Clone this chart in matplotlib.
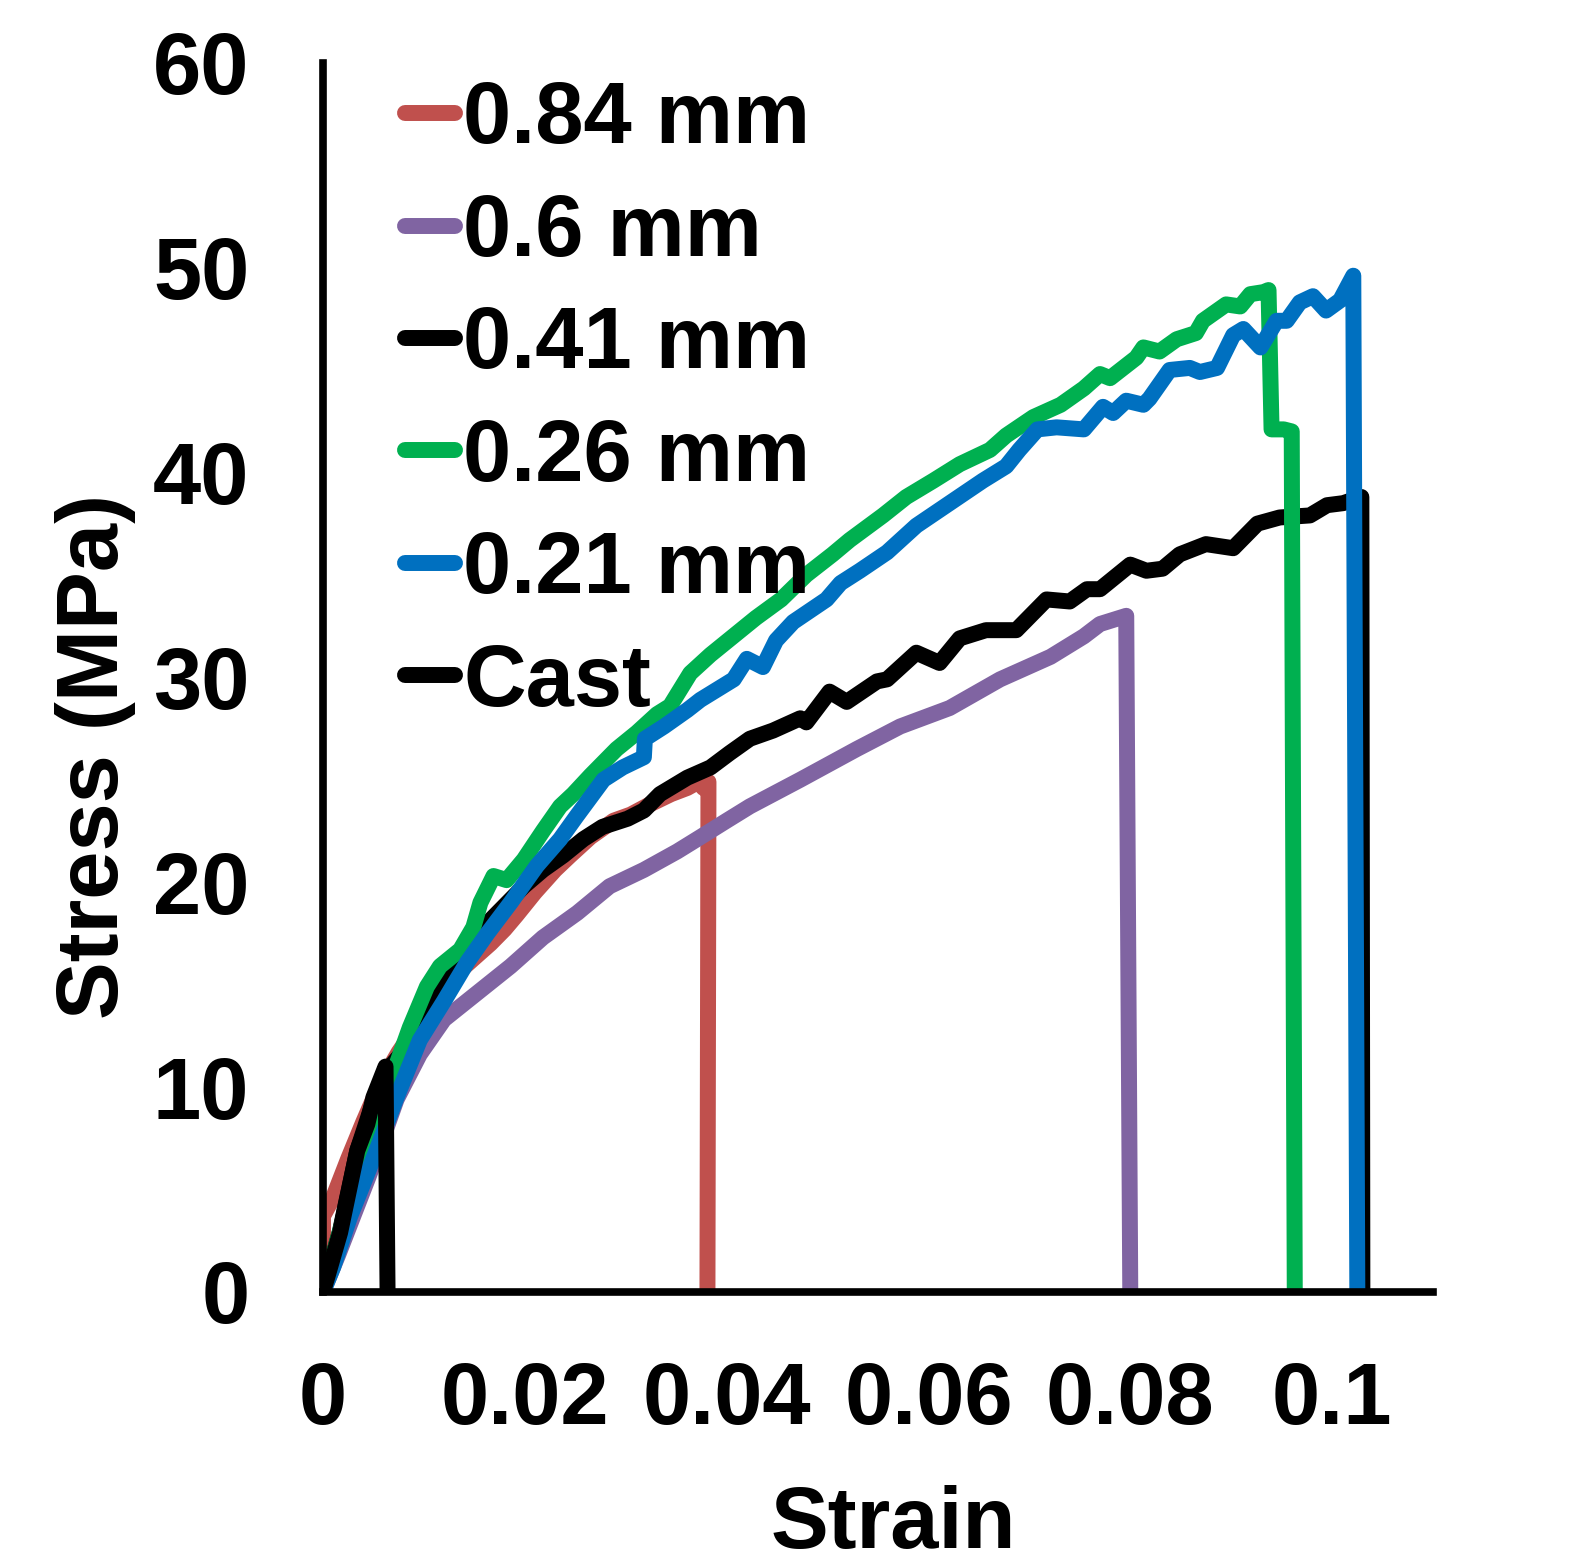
"""Stress-strain curves for printed layer heights vs cast specimen."""

import matplotlib

matplotlib.use("Agg")
import matplotlib.pyplot as plt

# ── data ─────────────────────────────────────────────────────────────
labels = ["0.84 mm", "0.6 mm", "0.41 mm", "0.26 mm", "0.21 mm", "Cast"]
colors = ["#C0504D", "#8064A2", "#000000", "#00B050", "#0070C0", "#000000"]

strain_084 = [0, 0.0, 0.0010, 0.0025, 0.0040, 0.0055, 0.0075, 0.0100, 0.0125,
              0.0150, 0.0166, 0.0180, 0.0192, 0.0210, 0.0230, 0.0245, 0.0265,
              0.0288, 0.0305, 0.0324, 0.0345, 0.0361, 0.0372, 0.0377, 0.0382,
              0.0381]
stress_084 = [0, 3.7, 4.6, 6.5, 8.3, 10.0, 11.7, 13.5, 15.2,
              16.3, 17.0, 17.7, 18.4, 19.5, 20.6, 21.3, 22.2,
              23.0, 23.3, 23.8, 24.3, 24.6, 24.9, 24.6, 24.9,
              0]

strain_06 = [0, 0.0015, 0.0030, 0.0045, 0.0060, 0.0073, 0.0096, 0.0120, 0.0153,
             0.0186, 0.0218, 0.0252, 0.0284, 0.0318, 0.0351, 0.0374, 0.0400,
             0.0423, 0.0473, 0.0529, 0.0572, 0.0621, 0.0671, 0.0721, 0.0754,
             0.0770, 0.0796, 0.0800]
stress_06 = [0, 1.8, 3.7, 5.6, 7.6, 9.4, 11.6, 13.3, 14.6,
             15.9, 17.3, 18.5, 19.8, 20.6, 21.5, 22.2, 23.0,
             23.7, 25.0, 26.5, 27.6, 28.5, 29.9, 31.0, 32.0,
             32.6, 33.0, 0]

strain_041 = [0, 0.0017, 0.0034, 0.0050, 0.0065, 0.0086, 0.0103, 0.0120, 0.0140,
              0.0159, 0.0179, 0.0199, 0.0218, 0.0238, 0.0258, 0.0277, 0.0302,
              0.0318, 0.0334, 0.0361, 0.0384, 0.0403, 0.0423, 0.0446, 0.0473,
              0.0479, 0.0502, 0.0519, 0.0549, 0.0559, 0.0588, 0.0611, 0.0631,
              0.0657, 0.0687, 0.0717, 0.0740, 0.0757, 0.0770, 0.0800, 0.0816,
              0.0832, 0.0849, 0.0875, 0.0902, 0.0926, 0.0948, 0.0978, 0.0995,
              0.1011, 0.1029, 0.1030]
stress_041 = [0, 3.0, 6.9, 9.3, 10.9, 12.1, 13.9, 15.4, 16.8,
              17.8, 18.8, 19.8, 20.6, 21.3, 22.1, 22.7, 23.1,
              23.5, 24.3, 25.1, 25.6, 26.3, 27.0, 27.4, 28.0,
              27.8, 29.3, 28.8, 29.8, 29.9, 31.2, 30.7, 31.9,
              32.3, 32.3, 33.8, 33.7, 34.3, 34.3, 35.5, 35.2,
              35.3, 36.0, 36.5, 36.3, 37.5, 37.8, 37.9, 38.4,
              38.5, 38.8, 0]

strain_026 = [0, 0.0020, 0.0040, 0.0055, 0.0070, 0.0086, 0.0103, 0.0116, 0.0136,
              0.0149, 0.0156, 0.0169, 0.0182, 0.0199, 0.0218, 0.0235, 0.0248,
              0.0265, 0.0291, 0.0311, 0.0331, 0.0344, 0.0364, 0.0384, 0.0404,
              0.0429, 0.0454, 0.0479, 0.0505, 0.0522, 0.0555, 0.0578, 0.0605,
              0.0631, 0.0661, 0.0677, 0.0704, 0.0731, 0.0754, 0.0770, 0.0780,
              0.0806, 0.0813, 0.0829, 0.0846, 0.0865, 0.0872, 0.0895, 0.0909,
              0.0919, 0.0932, 0.0937, 0.0940, 0.0952, 0.0960, 0.0963]
stress_026 = [0, 3.5, 6.8, 8.9, 10.7, 12.9, 14.9, 15.9, 16.7,
              17.8, 19.0, 20.3, 20.1, 21.1, 22.5, 23.7, 24.3,
              25.2, 26.5, 27.3, 28.2, 28.6, 30.2, 31.1, 31.9,
              32.9, 33.8, 35.0, 36.0, 36.7, 37.9, 38.8, 39.6,
              40.4, 41.1, 41.8, 42.7, 43.3, 44.1, 44.8, 44.6,
              45.6, 46.1, 45.9, 46.5, 46.8, 47.4, 48.2, 48.1,
              48.7, 48.8, 48.9, 42.1, 42.1, 42.0, 0]

strain_021 = [0, 0.0010, 0.0027, 0.0040, 0.0053, 0.0073, 0.0096, 0.0120, 0.0143,
              0.0163, 0.0186, 0.0212, 0.0235, 0.0251, 0.0278, 0.0297, 0.0318,
              0.0319, 0.0338, 0.0361, 0.0374, 0.0407, 0.0420, 0.0436, 0.0449,
              0.0466, 0.0499, 0.0513, 0.0532, 0.0559, 0.0588, 0.0621, 0.0654,
              0.0677, 0.0690, 0.0708, 0.0727, 0.0754, 0.0773, 0.0783, 0.0796,
              0.0813, 0.0819, 0.0839, 0.0859, 0.0869, 0.0886, 0.0902, 0.0912,
              0.0929, 0.0945, 0.0955, 0.0968, 0.0981, 0.0994, 0.1008, 0.1021,
              0.1025]
stress_021 = [0, 1.2, 3.7, 5.3, 6.9, 9.5, 12.3, 14.2, 16.1,
              17.5, 19.0, 20.8, 22.1, 23.2, 25.0, 25.6, 26.1,
              27.0, 27.6, 28.4, 28.9, 29.9, 30.9, 30.5, 31.8,
              32.7, 33.8, 34.6, 35.2, 36.1, 37.4, 38.5, 39.6,
              40.3, 41.1, 42.1, 42.2, 42.1, 43.2, 42.9, 43.5,
              43.3, 43.6, 45.0, 45.1, 44.9, 45.1, 46.7, 47.0,
              46.1, 47.4, 47.4, 48.3, 48.6, 47.9, 48.4, 49.6,
              0]

strain_cast = [0, 0.0017, 0.0034, 0.0044, 0.0050, 0.0062, 0.0064]
stress_cast = [0, 2.9, 6.9, 8.2, 9.5, 11.0, 0]

strains = [strain_084, strain_06, strain_041, strain_026, strain_021, strain_cast]
stresses = [stress_084, stress_06, stress_041, stress_026, stress_021, stress_cast]

x_ticks = [0, 0.02, 0.04, 0.06, 0.08, 0.1]
x_tick_labels = ["0", "0.02", "0.04", "0.06", "0.08", "0.1"]
y_ticks = [0, 10, 20, 30, 40, 50, 60]

# ── style ────────────────────────────────────────────────────────────
FS = 62.5
plt.rcParams.update(
    {
        "font.family": ["Liberation Sans", "DejaVu Sans"],
        "font.weight": "bold",
        "font.size": FS,
    }
)

fig = plt.figure(figsize=(15.91, 15.66), dpi=100)
ax = fig.add_axes([0.203, 0.175, 0.6977, 0.785])

for x, y, c, lab in zip(strains, stresses, colors, labels):
    assert len(x) == len(y), lab
    ax.plot(
        x, y, color=c, lw=11.5, label=lab,
        solid_capstyle="round", solid_joinstyle="round",
    )

ax.set_xlim(0, 0.11)
ax.set_ylim(0, 60)
ax.set_xticks(x_ticks)
ax.set_xticklabels(x_tick_labels)
ax.set_yticks(y_ticks)
ax.tick_params(length=0, labelsize=FS)
ax.tick_params(axis="x", pad=50)
ax.tick_params(axis="y", pad=53)

for side in ("top", "right"):
    ax.spines[side].set_visible(False)
for side in ("left", "bottom"):
    ax.spines[side].set_linewidth(5.5)

ax.set_xlabel("Strain", fontsize=FS, fontweight="bold")
ax.set_ylabel("Stress (MPa)", fontsize=FS, fontweight="bold")
ax.xaxis.set_label_coords(0.514, -0.157)
ax.yaxis.set_label_coords(-0.168, 0.436)

ax.legend(
    loc="upper left",
    bbox_to_anchor=(0.0735, 0.9855),
    frameon=False,
    fontsize=FS,
    handlelength=0.58,
    handletextpad=0.098,
    labelspacing=0.362,
    borderpad=0,
    borderaxespad=0,
)

fig.savefig("out.png", dpi=100)
